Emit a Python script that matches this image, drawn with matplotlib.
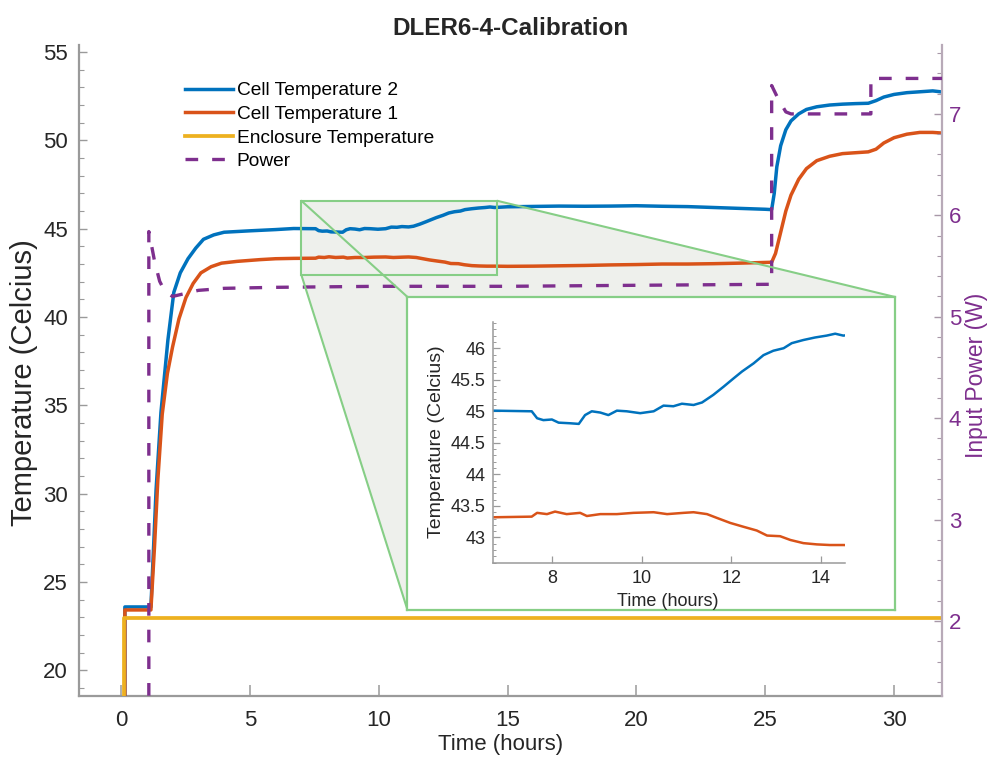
import numpy as np
import matplotlib
matplotlib.use('Agg')
import matplotlib.pyplot as plt
from matplotlib.patches import Polygon, Rectangle, ConnectionPatch
from matplotlib.ticker import MultipleLocator

plt.rcParams['font.family'] = ['Liberation Sans', 'DejaVu Sans']

BLUE, RED, GOLD, PURPLE = '#0072BD', '#D95319', '#EDB120', '#7E2F8E'
GREEN, FILL, TXT, AXC = '#86CE86', '#EEF0EC', '#262626', '#9A9A9A'

# ---- logged data (hours / degC / W) ----
t_cell2 = [0.15, 0.15, 1.16, 1.25, 1.36, 1.55, 1.82, 2.05, 2.3, 2.6, 2.9, 3.2, 3.6, 4.0, 5.0, 6.0,
           6.70, 7.55, 7.67, 7.81, 8.0, 8.15, 8.41, 8.6, 8.74, 8.89, 9.08, 9.26, 9.45, 9.67, 9.97,
           10.27, 10.49, 10.71, 10.9, 11.16, 11.35, 11.6, 11.83, 12.05, 12.24, 12.5, 12.72, 12.94,
           13.17, 13.35, 13.61, 13.87, 14.13, 14.32, 14.5,
           15.0, 16.0, 17.0, 18.0, 19.0, 20.0, 21.0, 22.0, 23.0, 24.0, 25.0, 25.25,
           25.35, 25.45, 25.6, 25.8, 26.0, 26.3, 26.6, 27.0, 27.5, 28.0, 28.5, 29.0, 29.3, 29.6,
           30.0, 30.5, 31.0, 31.5, 31.8]
cell2 = [17.0, 23.59, 23.59, 26.5, 30.2, 34.6, 38.7, 41.4, 42.5, 43.3, 43.9, 44.4, 44.65, 44.8, 44.88, 44.95,
         45.01, 45.0, 44.89, 44.86, 44.87, 44.82, 44.81, 44.80, 44.94, 45.0, 44.98, 44.94, 45.01, 45.0, 44.97,
         45.0, 45.09, 45.08, 45.12, 45.1, 45.14, 45.26, 45.39, 45.52, 45.63, 45.76, 45.89, 45.96,
         46.0, 46.08, 46.13, 46.17, 46.2, 46.23, 46.2,
         46.24, 46.26, 46.28, 46.27, 46.28, 46.3, 46.27, 46.25, 46.2, 46.15, 46.1, 46.08,
         47.0, 48.5, 49.7, 50.6, 51.1, 51.5, 51.75, 51.9, 52.0, 52.05, 52.08, 52.1, 52.25, 52.45,
         52.6, 52.7, 52.75, 52.8, 52.75]

t_cell1 = [0.15, 0.15, 1.16, 1.3, 1.43, 1.6, 1.8, 2.0, 2.25, 2.52, 2.8, 3.1, 3.5, 3.9, 4.5, 5.4, 6.0,
           6.70, 7.55, 7.67, 7.89, 8.07, 8.33, 8.63, 8.78, 9.08, 9.45, 9.82, 10.27, 10.57, 10.94,
           11.16, 11.46, 11.68, 11.98, 12.27, 12.57, 12.8, 13.09, 13.32, 13.61, 13.91, 14.2, 14.5,
           15.0, 16.0, 17.0, 18.0, 19.0, 20.0, 21.0, 22.0, 23.0, 24.0, 25.25,
           25.4, 25.6, 25.8, 26.0, 26.3, 26.6, 27.0, 27.5, 28.0, 28.5, 29.0, 29.3, 29.6,
           30.0, 30.5, 31.0, 31.5, 31.8]
cell1 = [17.0, 23.42, 23.42, 27.0, 30.8, 34.5, 36.8, 38.3, 39.9, 41.1, 41.9, 42.5, 42.85, 43.05, 43.15, 43.25, 43.3,
         43.32, 43.33, 43.39, 43.37, 43.41, 43.37, 43.39, 43.34, 43.37, 43.37, 43.39, 43.40, 43.37, 43.39,
         43.40, 43.37, 43.31, 43.23, 43.17, 43.11, 43.03, 43.02, 42.96, 42.91, 42.89, 42.88, 42.88,
         42.87, 42.88, 42.9, 42.92, 42.95, 42.97, 43.0, 43.0, 43.02, 43.05, 43.1,
         43.6, 44.8, 46.0, 46.9, 47.8, 48.4, 48.85, 49.1, 49.25, 49.3, 49.35, 49.5, 49.85,
         50.15, 50.35, 50.45, 50.45, 50.42]

t_encl = [0.1, 0.1, 31.9]
encl = [17.0, 22.95, 22.95]

t_power = [1.08, 1.08, 1.15, 1.3, 1.5, 1.7, 2.0, 2.5, 3.0, 4.0, 6.0, 10.0, 15.0, 20.0, 25.25,
           25.25, 25.5, 25.8, 26.0, 29.1, 29.1, 31.9]
power = [1.0, 5.84, 5.75, 5.55, 5.35, 5.25, 5.2, 5.23, 5.26, 5.28, 5.29, 5.3, 5.3, 5.31, 5.32,
         7.28, 7.15, 7.02, 7.0, 7.0, 7.35, 7.35]

# zoom window shown in the inset
zoom_x = (7.0, 14.6)
zoom_y = (42.38, 46.58)

fig = plt.figure(figsize=(9.9, 7.66), dpi=100)
ax = fig.add_axes([0.0798, 0.0914, 0.8717, 0.8499])
ax.set_facecolor('none')

l2, = ax.plot(t_cell2, cell2, color=BLUE, lw=2.5, label='Cell Temperature 2', zorder=3)
l1, = ax.plot(t_cell1, cell1, color=RED, lw=2.5, label='Cell Temperature 1', zorder=3)
le, = ax.plot(t_encl, encl, color=GOLD, lw=2.7, label='Enclosure Temperature', zorder=3)
ax.set_xlim(-1.63, 31.86)
ax.set_ylim(18.55, 55.4)
ax.set_xticks(range(0, 31, 5))
ax.set_yticks(range(20, 56, 5))
ax.yaxis.set_minor_locator(MultipleLocator(1))
for s in ('top', 'right'):
    ax.spines[s].set_visible(False)
for s in ('left', 'bottom'):
    ax.spines[s].set_color(AXC)
    ax.spines[s].set_linewidth(1.6)
ax.tick_params(axis='x', direction='in', length=8, width=1.1, color=AXC, pad=10,
               labelsize=16, labelcolor=TXT)
ax.tick_params(axis='y', which='major', direction='in', length=6, width=1.0, color=AXC, pad=8,
               labelsize=16, labelcolor=TXT)
ax.tick_params(axis='y', which='minor', direction='in', length=3.5, width=0.8, color=AXC)
ax.set_xlabel('Time (hours)', fontsize=16, color=TXT)
ax.xaxis.set_label_coords(0.488, -0.058)
ax.set_ylabel('Temperature (Celcius)', fontsize=21, color=TXT)
ax.yaxis.set_label_coords(-0.047, 0.482)
ax.set_title('DLER6-4-Calibration', fontsize=17.5, fontweight='bold', color=TXT, pad=7)

ax2 = ax.twinx()
lp, = ax2.plot(t_power, power, color=PURPLE, lw=2.4, dashes=(3.8, 4.2), label='Power', zorder=3)
ax2.set_ylim(1.26, 7.68)
ax2.set_yticks(range(2, 8))
ax2.yaxis.set_minor_locator(MultipleLocator(0.2))
for s in ('top', 'left', 'bottom'):
    ax2.spines[s].set_visible(False)
ax2.spines['right'].set_color('#B8AAB8')
ax2.spines['right'].set_linewidth(1.6)
ax2.tick_params(axis='y', which='major', direction='in', length=6, width=1.0, color='#A898A8', pad=5,
                labelsize=16, labelcolor=PURPLE)
ax2.tick_params(axis='y', which='minor', direction='in', length=3.5, width=0.8, color='#A898A8')
ax2.set_ylabel('Input Power (W)', fontsize=16.5, color=PURPLE)
ax2.yaxis.set_label_coords(1.0265, 0.493)

ax.legend([l2, l1, le, lp], [h.get_label() for h in (l2, l1, le, lp)],
          loc='upper left', bbox_to_anchor=(185 / 990, 1 - 82 / 766), bbox_transform=fig.transFigure,
          frameon=False, borderpad=0, borderaxespad=0, handlelength=2.5, handletextpad=0.2,
          labelspacing=0.32, fontsize=13.8)

# zoom rectangle on the main axes + projection to the inset frame
frame_box = [0.4116, 0.2037, 0.4924, 0.4086]
ax.add_patch(Rectangle((zoom_x[0], zoom_y[0]), zoom_x[1] - zoom_x[0], zoom_y[1] - zoom_y[0],
                       fill=False, edgecolor=GREEN, lw=1.5, zorder=4))
to_fig = ax.transData + fig.transFigure.inverted()
r_tl, r_tr, r_bl = to_fig.transform([(zoom_x[0], zoom_y[1]), (zoom_x[1], zoom_y[1]), (zoom_x[0], zoom_y[0])])
fx0, fy0 = frame_box[0], frame_box[1]
fx1, fy1 = fx0 + frame_box[2], fy0 + frame_box[3]
hull = [r_tl, r_tr, (fx1, fy1), (fx1, fy0), (fx0, fy0), r_bl]
ax.add_patch(Polygon(hull, closed=True, transform=fig.transFigure, clip_on=False,
                     facecolor=FILL, edgecolor='none', zorder=0.5))

fr = fig.add_axes(frame_box)
fr.set_zorder(5)
fr.set_facecolor('white')
fr.set_xticks([])
fr.set_yticks([])
for s in fr.spines.values():
    s.set_color(GREEN)
    s.set_linewidth(1.6)

for xa, xb in [((zoom_x[0], zoom_y[1]), (0, 1)), ((zoom_x[1], zoom_y[1]), (1, 1)),
               ((zoom_x[0], zoom_y[0]), (0, 0))]:
    cp = ConnectionPatch(xyA=xa, coordsA=ax.transData, xyB=xb, coordsB=fr.transAxes,
                         color=GREEN, lw=1.5, zorder=4)
    fig.add_artist(cp)

# inset: close-up of the two cell temperatures
ins = fig.add_axes([0.4977, 0.2646, 0.3559, 0.3154])
ins.set_zorder(6)
ins.set_facecolor('none')
ins.plot(t_cell2, cell2, color=BLUE, lw=1.8)
ins.plot(t_cell1, cell1, color=RED, lw=1.8)
ins.set_xlim(6.68, 14.54)
ins.set_ylim(42.59, 46.42)
ins.set_xticks([8, 10, 12, 14])
ins.set_yticks([43, 43.5, 44, 44.5, 45, 45.5, 46])
ins.set_yticklabels(['43', '43.5', '44', '44.5', '45', '45.5', '46'])
ins.yaxis.set_minor_locator(MultipleLocator(0.1))
for s in ('top', 'right'):
    ins.spines[s].set_visible(False)
for s in ('left', 'bottom'):
    ins.spines[s].set_color(AXC)
    ins.spines[s].set_linewidth(1.1)
ins.tick_params(axis='both', which='major', direction='in', length=5, width=0.9, color=AXC,
                labelsize=13, labelcolor=TXT, pad=5)
ins.tick_params(axis='y', which='minor', direction='in', length=2.5, width=0.7, color=AXC)
ins.set_xlabel('Time (hours)', fontsize=13, color=TXT)
ins.xaxis.set_label_coords(0.496, -0.123)
ins.set_ylabel('Temperature (Celcius)', fontsize=14, color=TXT)
ins.yaxis.set_label_coords(-0.135, 0.502)

fig.savefig('out.png', dpi=100, facecolor='white')
